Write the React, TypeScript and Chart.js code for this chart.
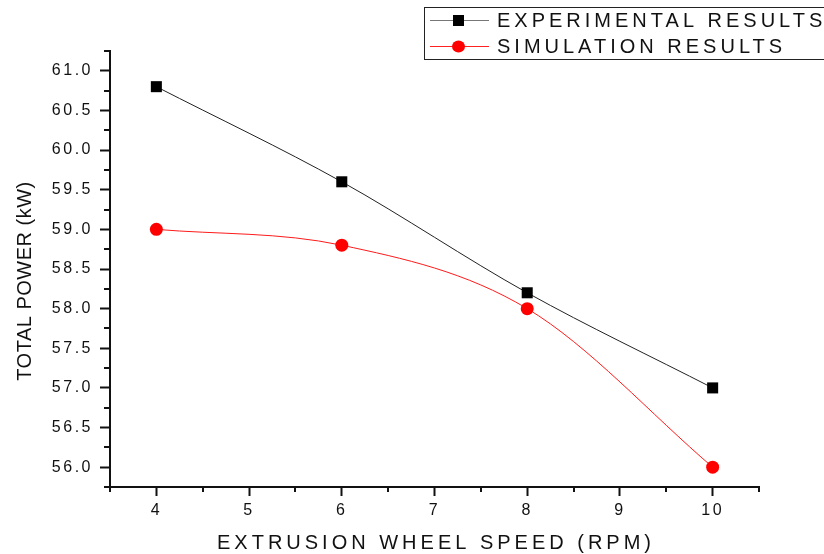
import React, { useEffect, useRef } from "react";
import { Chart, registerables } from "chart.js";

Chart.register(...registerables);

const speeds = [4, 6, 8, 10];
const experimental = [60.8, 59.6, 58.2, 57.0];
const simulation = [59.0, 58.8, 58.0, 56.0];

const xMajorTicks = [4, 5, 6, 7, 8, 9, 10];
const xMinorTicks = [3.5, 4.5, 5.5, 6.5, 7.5, 8.5, 9.5, 10.5];
const yMajorTicks = [56.0, 56.5, 57.0, 57.5, 58.0, 58.5, 59.0, 59.5, 60.0, 60.5, 61.0];
const yMinorTicks = [55.75, 56.25, 56.75, 57.25, 57.75, 58.25, 58.75, 59.25, 59.75, 60.25, 60.75, 61.25];

const seriesNames = ["EXPERIMENTAL RESULTS", "SIMULATION RESULTS"];
const xTitle = "EXTRUSION WHEEL SPEED (RPM)";
const yTitle = "TOTAL POWER (kW)";

const FONT = "'Liberation Sans', Arial, sans-serif";
const AXIS = "#111111";

const decorPlugin = {
  id: "decor",
  beforeDraw(chart: any) {
    (chart.ctx as any).letterSpacing = "2.5px";
  },
  afterDraw(chart: any) {
    const ctx = chart.ctx as any;
    const xs = chart.scales.x;
    const ys = chart.scales.y;
    const area = chart.chartArea;
    ctx.save();
    // minor ticks
    ctx.strokeStyle = AXIS;
    ctx.lineWidth = 2;
    ctx.beginPath();
    for (const v of xMinorTicks) {
      const px = Math.round(xs.getPixelForValue(v));
      ctx.moveTo(px, area.bottom);
      ctx.lineTo(px, area.bottom + 5);
    }
    for (const v of yMinorTicks) {
      const py = Math.round(ys.getPixelForValue(v));
      ctx.moveTo(area.left - 6, py);
      ctx.lineTo(area.left, py);
    }
    ctx.stroke();

    // axis titles
    ctx.fillStyle = "#111";
    ctx.font = `20px ${FONT}`;
    ctx.letterSpacing = "4px";
    ctx.textAlign = "center";
    ctx.textBaseline = "middle";
    ctx.fillText(xTitle, 436, 543);
    ctx.letterSpacing = "0.5px";
    ctx.save();
    ctx.translate(25, 281);
    ctx.rotate(-Math.PI / 2);
    ctx.fillText(yTitle, 0, 0);
    ctx.restore();

    // legend
    ctx.letterSpacing = "0px";
    ctx.lineWidth = 1;
    ctx.strokeStyle = "#222";
    ctx.strokeRect(424.5, 7.5, 420, 52);
    const rows = [
      { y: 20, line: "#777777", fill: "#000000", rect: true },
      { y: 46, line: "#ff2020", fill: "#ff0000", rect: false },
    ];
    rows.forEach((r, i) => {
      ctx.strokeStyle = r.line;
      ctx.lineWidth = 1;
      ctx.beginPath();
      ctx.moveTo(430, r.y + 0.5);
      ctx.lineTo(489, r.y + 0.5);
      ctx.stroke();
      ctx.fillStyle = r.fill;
      if (r.rect) {
        ctx.fillRect(453, r.y - 5, 11, 11);
      } else {
        ctx.beginPath();
        ctx.ellipse(458.5, r.y + 0.5, 6.5, 6, 0, 0, Math.PI * 2);
        ctx.fill();
      }
      ctx.fillStyle = "#111";
      ctx.font = `20px ${FONT}`;
      ctx.letterSpacing = "4px";
      ctx.textAlign = "left";
      ctx.textBaseline = "middle";
      ctx.fillText(seriesNames[i], 497, r.y + 1);
    });
    ctx.restore();
  },
};

export default function App() {
  const ref = useRef<HTMLCanvasElement | null>(null);
  useEffect(() => {
    if (!ref.current) return;
    const chart = new Chart(ref.current, {
      type: "line",
      data: {
        datasets: [
          {
            label: seriesNames[0],
            data: speeds.map((x, i) => ({ x, y: experimental[i] })),
            borderColor: "#222222",
            backgroundColor: "#000000",
            borderWidth: 1,
            pointStyle: "rect",
            pointRadius: 7.8,
            pointBorderWidth: 0,
            pointBackgroundColor: "#000000",
            cubicInterpolationMode: "monotone",
          },
          {
            label: seriesNames[1],
            data: speeds.map((x, i) => ({ x, y: simulation[i] })),
            borderColor: "#ff1a1a",
            backgroundColor: "#ff0000",
            borderWidth: 1,
            pointStyle: "circle",
            pointRadius: 6.5,
            pointBorderWidth: 0,
            pointBackgroundColor: "#ff0000",
            cubicInterpolationMode: "monotone",
          },
        ],
      },
      options: {
        animation: false,
        responsive: false,
        layout: { padding: { top: 51, right: 65, left: 0, bottom: 0 } },
        plugins: { legend: { display: false }, title: { display: false }, tooltip: { enabled: false } },
        scales: {
          x: {
            type: "linear",
            min: 3.5,
            max: 10.5,
            afterBuildTicks: (s: any) => {
              s.ticks = xMajorTicks.map((v) => ({ value: v }));
            },
            afterFit: (s: any) => {
              s.height = 67;
            },
            grid: {
              display: true,
              drawOnChartArea: false,
              drawTicks: true,
              tickLength: 9,
              tickWidth: 2,
              tickColor: AXIS,
            },
            border: { display: true, width: 2, color: AXIS },
            ticks: {
              autoSkip: false,
              maxRotation: 0,
              padding: 5,
              color: "#111",
              font: { family: FONT, size: 16 },
              callback: (v: any) => String(v),
            },
          },
          y: {
            type: "linear",
            min: 55.75,
            max: 61.25,
            afterBuildTicks: (s: any) => {
              s.ticks = yMajorTicks.map((v) => ({ value: v }));
            },
            afterFit: (s: any) => {
              s.width = 110;
            },
            grid: {
              display: true,
              drawOnChartArea: false,
              drawTicks: true,
              tickLength: 10,
              tickWidth: 2,
              tickColor: AXIS,
            },
            border: { display: true, width: 2, color: AXIS },
            ticks: {
              autoSkip: false,
              padding: 7,
              color: "#111",
              font: { family: FONT, size: 16 },
              callback: (v: any) => Number(v).toFixed(1),
            },
          },
        },
      },
      plugins: [decorPlugin],
    } as any);
    return () => chart.destroy();
  }, []);
  return (
    <div style={{ position: "fixed", left: 0, top: 0, width: 824, height: 554, background: "#fff" }}>
      <canvas ref={ref} width={824} height={554} style={{ display: "block" }} />
    </div>
  );
}
